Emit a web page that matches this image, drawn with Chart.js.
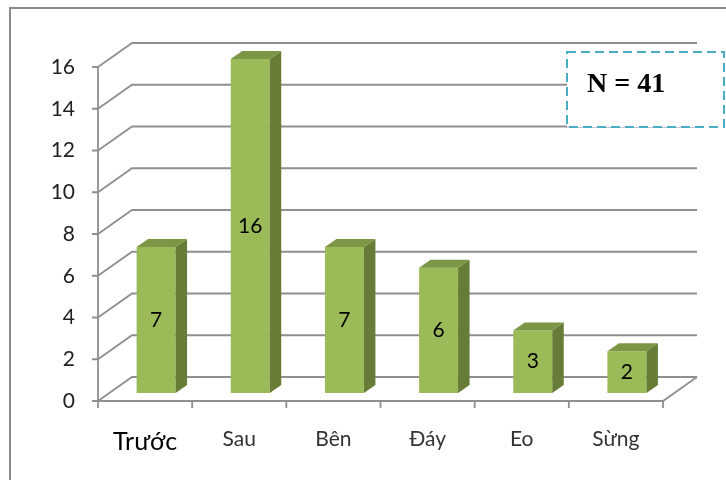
<!DOCTYPE html>
<html>
<head>
<meta charset="utf-8">
<script src="https://cdn.jsdelivr.net/npm/chart.js@4"></script>
<style>
    html, body { margin: 0; padding: 0; background: #fff; }
    #wrap { width: 726px; height: 480px; }
</style>
</head>
<body>
<div id="wrap"><canvas id="viTriChart" width="726" height="480"></canvas></div>
<script>
const categories = ['Trước', 'Sau', 'Bên', 'Đáy', 'Eo', 'Sừng'];
const counts = [7, 16, 7, 6, 3, 2];
const yTicks = [0, 2, 4, 6, 8, 10, 12, 14, 16];
const totalLabel = 'N = 41';

// 3D look: bars sit in the middle of the floor depth
const FRONT = { x: -11, y: 8 };   // front axis plane, relative to bar plane
const BACK = { x: 23, y: -16 };   // back wall, relative to bar plane
const DEPTH = { x: 11.5, y: -8 }; // bar thickness

const gridColor = '#8f8f8f';

const wallsPlugin = {
    id: 'walls',
    beforeDatasetsDraw(chart) {
        const { ctx, chartArea: a, scales: { x, y } } = chart;
        ctx.save();

        // outer frame
        ctx.strokeStyle = '#8a8a8a';
        ctx.lineWidth = 2;
        ctx.strokeRect(10, 8, 760, 520);

        ctx.strokeStyle = gridColor;
        ctx.lineWidth = 1.8;
        ctx.beginPath();
        yTicks.forEach(v => {
            const py = y.getPixelForValue(v);
            // side wall diagonal + back wall line
            ctx.moveTo(a.left + FRONT.x, py + FRONT.y);
            ctx.lineTo(a.left + BACK.x, py + BACK.y);
            ctx.lineTo(a.right + BACK.x, py + BACK.y);
            // tick mark on front axis
            ctx.moveTo(a.left + FRONT.x - 6, py + FRONT.y);
            ctx.lineTo(a.left + FRONT.x, py + FRONT.y);
        });
        const y0 = y.getPixelForValue(0);
        const y16 = y.getPixelForValue(yTicks[yTicks.length - 1]);
        // front vertical axis
        ctx.moveTo(a.left + FRONT.x, y16 + FRONT.y);
        ctx.lineTo(a.left + FRONT.x, y0 + FRONT.y);
        // front floor edge and right floor edge
        ctx.lineTo(a.right + FRONT.x, y0 + FRONT.y);
        ctx.lineTo(a.right + BACK.x, y0 + BACK.y);
        // category tick marks
        for (let i = 0; i <= categories.length; i++) {
            const px = x.getPixelForValue(i - 0.5) + FRONT.x;
            ctx.moveTo(px, y0 + FRONT.y);
            ctx.lineTo(px, y0 + FRONT.y + 7);
        }
        ctx.stroke();
        ctx.restore();
    },
    afterDatasetsDraw(chart) {
        const { ctx } = chart;
        const meta = chart.getDatasetMeta(0);
        ctx.save();
        meta.data.forEach((bar, i) => {
            const { x, y, base, width } = bar.getProps(['x', 'y', 'base', 'width'], true);
            const l = x - width / 2, r = x + width / 2;
            // side face
            ctx.fillStyle = '#677c37';
            ctx.beginPath();
            ctx.moveTo(r, y);
            ctx.lineTo(r + DEPTH.x, y + DEPTH.y);
            ctx.lineTo(r + DEPTH.x, base + DEPTH.y);
            ctx.lineTo(r, base);
            ctx.closePath();
            ctx.fill();
            // top face
            ctx.fillStyle = '#7b9645';
            ctx.beginPath();
            ctx.moveTo(l, y);
            ctx.lineTo(l + DEPTH.x, y + DEPTH.y);
            ctx.lineTo(r + DEPTH.x, y + DEPTH.y);
            ctx.lineTo(r, y);
            ctx.closePath();
            ctx.fill();
            // value label
            ctx.fillStyle = '#000';
            ctx.font = '21px Lato';
            ctx.textAlign = 'center';
            ctx.textBaseline = 'middle';
            ctx.fillText(String(counts[i]), x, (y + base) / 2);
        });
        ctx.restore();
    },
    afterDraw(chart) {
        const { ctx } = chart;
        ctx.save();
        ctx.fillStyle = '#fff';
        ctx.fillRect(567, 52, 158, 75);
        ctx.setLineDash([9, 5]);
        ctx.strokeStyle = '#4bacc6';
        ctx.lineWidth = 2;
        ctx.strokeRect(567, 52, 157, 75);
        ctx.setLineDash([]);
        ctx.fillStyle = '#000';
        ctx.font = 'bold 28px "Liberation Serif"';
        ctx.textAlign = 'left';
        ctx.textBaseline = 'alphabetic';
        ctx.fillText(totalLabel, 587, 92);
        ctx.restore();
    }
};

new Chart(document.getElementById('viTriChart'), {
    type: 'bar',
    data: {
        labels: categories,
        datasets: [{
            data: counts,
            backgroundColor: '#9bbb59',
            borderWidth: 0,
            barPercentage: 0.414,
            categoryPercentage: 1
        }]
    },
    options: {
        responsive: false,
        animation: false,
        layout: { padding: { top: 59, right: 52, left: 0, bottom: 0 } },
        plugins: { legend: { display: false }, tooltip: { enabled: false } },
        scales: {
            x: {
                grid: { display: false, drawTicks: false },
                border: { display: false },
                afterFit: s => { s.height = 87; },
                ticks: {
                    padding: 34,
                    labelOffset: -11,
                    color: ctx => ctx.index === 0 ? '#000' : '#333',
                    font: ctx => ctx.index === 0 ? { family: 'Lato', size: 25 } : { family: 'Lato', size: 21 }
                }
            },
            y: {
                min: 0,
                max: 16,
                grid: { display: false, drawTicks: false },
                border: { display: false },
                afterFit: s => { s.width = 109; },
                ticks: {
                    stepSize: 2,
                    padding: 34,
                    labelOffset: 8,
                    color: '#222',
                    font: { family: 'Lato', size: 21 }
                }
            }
        }
    },
    plugins: [wallsPlugin]
});
</script>
</body>
</html>
